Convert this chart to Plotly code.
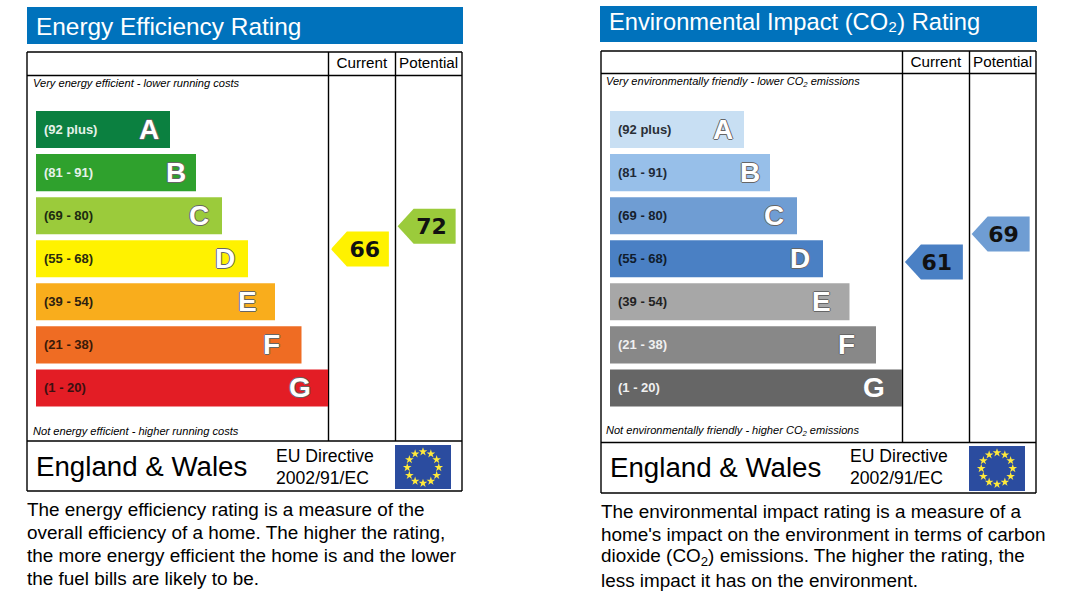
import plotly.graph_objects as go

W, H = 1091, 593

BAND_LETTERS = ['A', 'B', 'C', 'D', 'E', 'F', 'G']
BAND_RANGES = ['(92 plus)', '(81 - 91)', '(69 - 80)', '(55 - 68)', '(39 - 54)', '(21 - 38)', '(1 - 20)']
ENERGY_BAR_LENGTHS = [134, 160, 186, 212, 239, 265.5, 292]
ENV_BAR_LENGTHS = [134, 160, 187, 213, 239.5, 266, 292]
COLUMNS = ['Current', 'Potential']
ENERGY_RATINGS = [66, 72]
ENV_RATINGS = [61, 69]
EU_STAR_ANGLES = [0, 30, 60, 90, 120, 150, 180, 210, 240, 270, 300, 330]
EU_STAR_RADII = [1] * 12
ENERGY_PARAGRAPH = [
    'The energy efficiency rating is a measure of the',
    'overall efficiency of a home. The higher the rating,',
    'the more energy efficient the home is and the lower',
    'the fuel bills are likely to be.',
]
ENV_PARAGRAPH = [
    'The environmental impact rating is a measure of a',
    "home's impact on the environment in terms of carbon",
    'dioxide (CO<sub>2</sub>) emissions. The higher the rating, the',
    'less impact it has on the environment.',
]

# ── styles ────────────────────────────────────────────────────────────────────
ENERGY_COLORS = ['#0b8040', '#2fa12d', '#9bcb3b', '#fff200', '#f9ad1c', '#ef6c23', '#e31d25']
ENV_COLORS = ['#c8dff3', '#97bfe9', '#6f9dd3', '#4a80c4', '#a7a7a7', '#888888', '#666666']
ENERGY_LABEL_COLORS = ['#e6f2ea', '#e6f2ea', '#1c2a10', '#2a2a10', '#2c2010', '#3a1a08', '#3a1010']
ENV_LABEL_COLORS = ['#2a2f36', '#1f2a38', '#16202c', '#101c2c', '#222222', '#f0f0f0', '#f0f0f0']
LETTER_INSET = [21, 20, 23, 23, 28, 30, 28]
FONT = 'Liberation Sans'
BLUE = '#0072bc'
OUTLINE = '-1px 0 #666, 1px 0 #666, 0 -1px #666, 0 1px #666'
TEXT_DROP = 2.5  # los números quedan algo por debajo del centro del puntero


def px(x):
    return x / W


def py(y):
    return 1 - y / H


shapes = []
annotations = []


def line(x0, y0, x1, y1, width=1.4):
    shapes.append(dict(type='line', xref='paper', yref='paper', layer='below',
                       x0=px(x0), y0=py(y0), x1=px(x1), y1=py(y1),
                       line=dict(color='black', width=width)))


def block(x0, y0, x1, y1, color):
    shapes.append(dict(type='rect', xref='paper', yref='paper', layer='below',
                       x0=px(x0), y0=py(y0), x1=px(x1), y1=py(y1),
                       fillcolor=color, line_width=0))


def note(x, y, text, size, color='black'):
    annotations.append(dict(xref='paper', yref='paper', x=px(x - 1), y=py(y), text=text,
                            showarrow=False, xanchor='left', yanchor='middle', align='left',
                            font=dict(family=FONT, size=size, color=color), borderpad=0))


def add_panel(fig, n, left, title, title_x, title_y, title_text_y, title_size, colors, label_colors, lengths, ratings,
              rating_range, rating_domain, cap_top, cap_bottom, frame, columns_x, text_dx, ptr_dx,
              flag, para, para_y, para_pitch, dir_y, eng_y, standoff):
    xa, ya = f'x{n}', f'y{n}'
    xb, yb = f'x{n + 1}', f'y{n + 1}'

    fig.add_trace(go.Bar(x=lengths, y=BAND_LETTERS, orientation='h', xaxis=xa, yaxis=ya,
                         marker=dict(color=colors, line_width=0), width=0.86,
                         hoverinfo='skip', showlegend=False))
    fig.add_trace(go.Scatter(x=COLUMNS, y=ratings, mode='text', xaxis=xb, yaxis=yb,
                             text=[str(v) for v in ratings], textposition='middle center',
                             textfont=dict(family='DejaVu Sans', size=22, color='#111111', weight='bold'),
                             hoverinfo='skip', showlegend=False))

    fig.update_layout({
        f'xaxis{n}': dict(domain=[px(left), px(left + 292)], range=[0, 292], visible=False),
        f'yaxis{n}': dict(domain=[py(409.5), py(108)], range=[6.5, -0.5], visible=False,
                          type='category', categoryorder='array', categoryarray=BAND_LETTERS),
        f'xaxis{n + 1}': dict(domain=[px(columns_x[0] + text_dx), px(columns_x[2] + text_dx)],
                              type='category', categoryorder='array', categoryarray=COLUMNS,
                              range=[-0.5, 1.5], side='top', showgrid=False, zeroline=False,
                              showline=False, ticks='', ticklabelshift=-text_dx, ticklabelstandoff=standoff,
                              tickfont=dict(family=FONT, size=15.2, color='black'), anchor=yb),
        f'yaxis{n + 1}': dict(domain=[py(rating_domain[1] + TEXT_DROP), py(rating_domain[0] + TEXT_DROP)],
                              range=rating_range, visible=False, anchor=xb),
    })

    for i, letter in enumerate(BAND_LETTERS):
        annotations.append(dict(xref=xa, yref=ya, x=lengths[i], y=letter, xshift=-LETTER_INSET[i],
                                text=letter, showarrow=False, xanchor='center', yanchor='middle',
                                font=dict(family=FONT, size=28, color='white', weight='bold', shadow=OUTLINE)))
        annotations.append(dict(xref=xa, yref=ya, x=0, y=letter, xshift=6, yshift=0.5, text=BAND_RANGES[i],
                                showarrow=False, xanchor='left', yanchor='middle',
                                font=dict(family=FONT, size=13, color=label_colors[i], weight='bold')))

    # punteros: el ancla pasa por los ejes, la silueta va en píxeles
    for i, rating in enumerate(ratings):
        band = 2 if rating >= 69 else 3
        top, bottom = TEXT_DROP + 17.5, TEXT_DROP - 17.5
        shapes.append(dict(type='path', xref=xb, yref=yb, layer='below',
                           xsizemode='pixel', ysizemode='pixel', xanchor=i, yanchor=rating,
                           path=f'M {ptr_dx - 29} {TEXT_DROP} L {ptr_dx - 13} {top} L {ptr_dx + 29} {top} '
                                f'L {ptr_dx + 29} {bottom} L {ptr_dx - 13} {bottom} Z',
                           fillcolor=colors[band], line_width=0))

    x0, y0, x1, y1 = frame
    block(x0 - (0 if n == 1 else 1), title_y[0], x1 + 1, title_y[1], BLUE)
    note(title_x, title_text_y, title, title_size, color='white')
    line(x0, y0, x1, y0)
    line(x0, y1, x1, y1)
    line(x0, y0, x0, y1)
    line(x1, y0, x1, y1)
    line(x0, cap_top, x1, cap_top)
    line(x0, cap_bottom, x1, cap_bottom)
    line(columns_x[0], y0, columns_x[0], cap_bottom)
    line(columns_x[1], y0, columns_x[1], cap_bottom)

    block(*flag, '#2b4c9f')
    note(x0 + 9, eng_y, 'England &amp; Wales', 27.7)
    note(x0 + 249, dir_y, 'EU Directive', 17.6)
    note(x0 + 249, dir_y + 22, '2002/91/EC', 17.6)
    for j, text in enumerate(para):
        note(x0, para_y + j * para_pitch, text, 18.9)


fig = go.Figure()

add_panel(fig, 1, 36, 'Energy Efficiency Rating', 35.5, (7, 44), 26.5, 24.4, ENERGY_COLORS, ENERGY_LABEL_COLORS,
          ENERGY_BAR_LENGTHS, ENERGY_RATINGS, [15.9, 111.4], (76, 440), 75.5, 441,
          (27, 52, 462, 491), (328.5, 395.5, 462), 3, -5, (395, 445, 451, 489),
          ENERGY_PARAGRAPH, 509, 23.2, 456, 466.5, 6)
add_panel(fig, 3, 610, 'Environmental Impact (CO₂) Rating', 609, (6, 42), 22, 23.7, ENV_COLORS, ENV_LABEL_COLORS,
          ENV_BAR_LENGTHS, ENV_RATINGS, [9.9, 114.7], (74, 441), 73.5, 442.5,
          (601, 51, 1036, 493), (902.5, 969.5, 1036), 1, -3, (969, 446, 1025, 491),
          ENV_PARAGRAPH, 511.5, 22.9, 456, 467, 5)

note(33, 83, '<i>Very energy efficient - lower running costs</i>', 11.1)
note(33, 431, '<i>Not energy efficient - higher running costs</i>', 11.1)
note(606, 82, '<i>Very environmentally friendly - lower CO<sub>2</sub> emissions</i>', 11.05)
note(606, 431, '<i>Not environmentally friendly - higher CO<sub>2</sub> emissions</i>', 11.05)

# estrellas de la bandera UE sobre un eje polar oculto
for name, subplot, cx, cy in [('polar', 'polar', 423, 467.5), ('polar2', 'polar2', 997, 468.5)]:
    fig.add_trace(go.Scatterpolar(r=EU_STAR_RADII, theta=EU_STAR_ANGLES, mode='markers', subplot=subplot,
                                  marker=dict(symbol='star', size=6.5, color='#ffe93b', line_width=0),
                                  hoverinfo='skip', showlegend=False))
    fig.update_layout({name: dict(
        domain=dict(x=[px(cx - 20), px(cx + 20)], y=[py(cy + 20), py(cy - 20)]),
        bgcolor='rgba(0,0,0,0)',
        radialaxis=dict(visible=False, range=[0, 1.27]),
        angularaxis=dict(visible=False),
    )})

fig.update_layout(
    width=W, height=H, margin=dict(l=0, r=0, t=0, b=0),
    paper_bgcolor='white', plot_bgcolor='rgba(0,0,0,0)', showlegend=False,
    shapes=shapes, annotations=annotations,
)
fig.write_html('out.html', config=dict(displayModeBar=False),
               post_script="document.body.style.margin='0';document.body.style.overflow='hidden';")
